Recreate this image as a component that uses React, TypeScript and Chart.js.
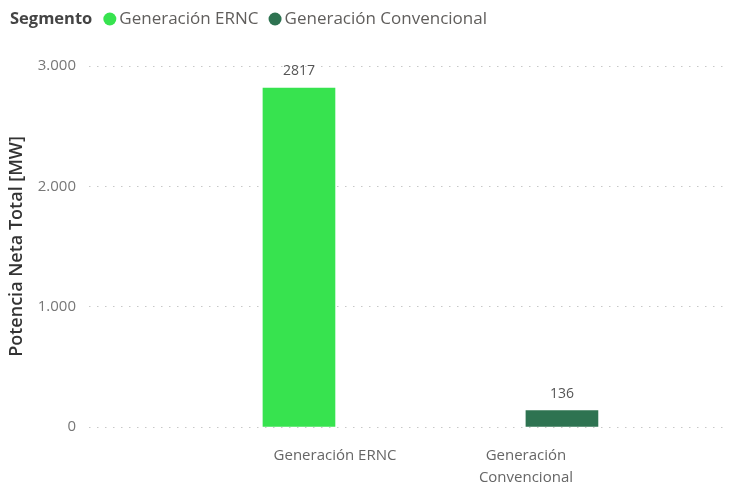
import React, { useEffect, useRef } from "react";
import { Chart, registerables } from "chart.js";

Chart.register(...registerables);

const categories = ["Generación ERNC", "Generación Convencional"];
const categoryLabelLines = [["Generación ERNC"], ["Generación", "Convencional"]];
const values = [2817, 136];
const colors = ["#37E34F", "#2E7351"];
const yTickValues = [0, 1000, 2000, 3000];
const legendTitle = "Segmento";
const yTitle = "Potencia Neta Total [MW]";

const FONT = "'Segoe UI', 'Open Sans', sans-serif";

function fmt(v: number): string {
  const s = Math.round(v).toString();
  return s.replace(/\B(?=(\d{3})+(?!\d))/g, ".");
}

const legendPlugin = {
  id: "pbiLegend",
  afterDraw(chart: any) {
    const ctx = chart.ctx;
    ctx.save();
    const y = 19;
    ctx.textBaseline = "middle";
    ctx.textAlign = "left";
    ctx.font = `bold 16.5px ${FONT}`;
    ctx.fillStyle = "#444444";
    ctx.fillText(legendTitle, 10, y);
    let x = 10 + ctx.measureText(legendTitle).width + 11;
    ctx.font = `17px ${FONT}`;
    categories.forEach((c, i) => {
      ctx.beginPath();
      ctx.fillStyle = colors[i];
      ctx.arc(x + 6.5, y, 6.5, 0, Math.PI * 2);
      ctx.fill();
      x += 16;
      ctx.fillStyle = "#605E5C";
      ctx.fillText(c, x, y);
      x += ctx.measureText(c).width + 10;
    });
    ctx.restore();
  },
};

const dataLabelPlugin = {
  id: "barValues",
  afterDatasetsDraw(chart: any) {
    const ctx = chart.ctx;
    ctx.save();
    ctx.font = `14px ${FONT}`;
    ctx.fillStyle = "#555555";
    ctx.textAlign = "center";
    ctx.textBaseline = "middle";
    chart.data.datasets.forEach((ds: any, di: number) => {
      const meta = chart.getDatasetMeta(di);
      meta.data.forEach((el: any, i: number) => {
        const v = ds.data[i].y;
        if (v == null) return;
        ctx.fillText(String(v), el.x, el.y - 17);
      });
    });
    ctx.restore();
  },
};

export default function App() {
  const ref = useRef<HTMLCanvasElement | null>(null);
  useEffect(() => {
    if (!ref.current) return;
    const chart = new Chart(ref.current, {
      type: "bar",
      data: {
        datasets: categories.map((c, i) => ({
          label: c,
          data: [{ x: i, y: values[i] }],
          backgroundColor: colors[i],
          barThickness: 72,
        })),
      },
      options: {
        animation: false,
        responsive: false,
        maintainAspectRatio: false,
        layout: { padding: { top: 66, right: 2, left: 0, bottom: 0 } },
        plugins: {
          legend: { display: false },
          tooltip: { enabled: false },
        },
        scales: {
          x: {
            type: "linear",
            offset: false,
            min: -1.288,
            max: 2.058,
            grid: { display: false, drawTicks: false, offset: false },
            border: { display: false },
            afterBuildTicks: (scale: any) => {
              scale.ticks = categories.map((_, i) => ({ value: i }));
            },
            afterFit: (scale: any) => {
              scale.height = 56;
            },
            ticks: {
              padding: 17,
              autoSkip: false,
              maxRotation: 0,
              color: "#666666",
              font: { family: FONT, size: 15, lineHeight: 1.5 },
              callback: (v: any) => {
                const i = Math.round(Number(v));
                return categoryLabelLines[i] || "";
              },
            },
          },
          y: {
            min: 0,
            max: 3000,
            afterBuildTicks: (scale: any) => {
              scale.ticks = yTickValues.map((v) => ({ value: v }));
            },
            afterFit: (scale: any) => {
              scale.width = 89;
            },
            grid: {
              color: "#C8C8C8",
              drawTicks: false,
              lineWidth: 1,
            },
            border: { display: false, dash: [1.5, 6.5] },
            ticks: {
              padding: 13,
              color: "#777777",
              font: { family: FONT, size: 15 },
              callback: (v: any) => fmt(Number(v)),
            },
            title: {
              display: true,
              text: yTitle,
              color: "#333333",
              font: { family: FONT, size: 18, weight: "600" },
              padding: { top: 6, bottom: 0 },
            },
          },
        },
      },
      plugins: [legendPlugin, dataLabelPlugin],
    } as any);
    return () => chart.destroy();
  }, []);
  return (
    <div style={{ position: "fixed", left: 0, top: 0, width: 730, height: 483, background: "#ffffff" }}>
      <canvas ref={ref} width={730} height={483} style={{ width: 730, height: 483 }} />
    </div>
  );
}
